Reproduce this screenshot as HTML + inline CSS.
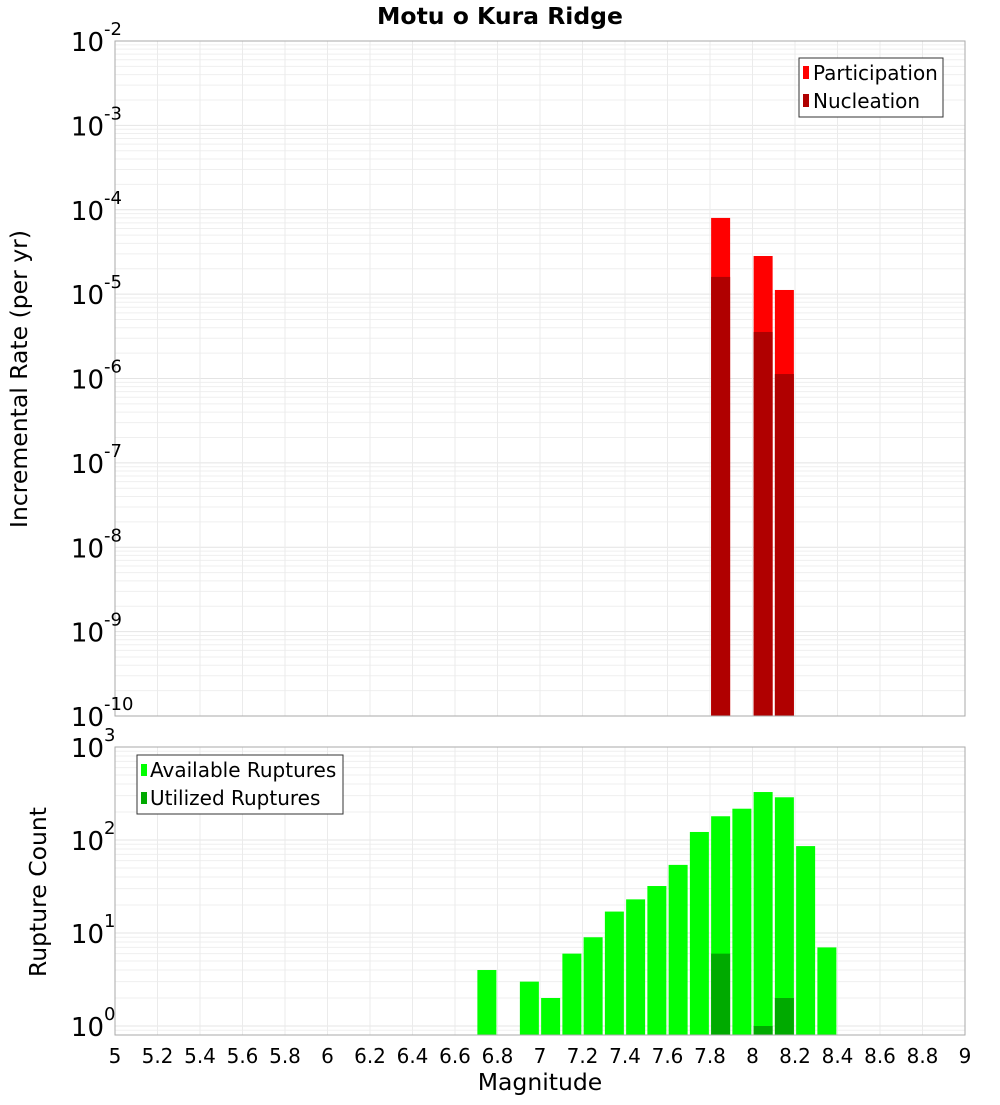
<!DOCTYPE html>
<html><head><meta charset="utf-8"><style>
body{margin:0;background:#fff;font-family:"Liberation Sans","DejaVu Sans",sans-serif}
svg text{font-family:"DejaVu Sans","Liberation Sans",sans-serif}
</style></head><body>
<svg id="c" width="1000" height="1100" xmlns="http://www.w3.org/2000/svg"></svg>
<script>
const bins=[6.75,6.95,7.05,7.15,7.25,7.35,7.45,7.55,7.65,7.75,7.85,7.95,8.05,8.15,8.25,8.35];
const available=[4,3,2,6,9,17,23,32,54,122,180,217,328,288,86,7];
const utilBins=[7.85,8.05,8.15];
const utilized=[6,1,2];
const rateBins=[7.85,8.05,8.15];
const participation=[8.0e-5,2.83e-5,1.12e-5];
const nucleation=[1.6e-5,3.56e-6,1.13e-6];
const xTicks=[5,5.2,5.4,5.6,5.8,6,6.2,6.4,6.6,6.8,7,7.2,7.4,7.6,7.8,8,8.2,8.4,8.6,8.8,9];
const xTickLabels=["5","5.2","5.4","5.6","5.8","6","6.2","6.4","6.6","6.8","7","7.2","7.4","7.6","7.8","8","8.2","8.4","8.6","8.8","9"];
const topExps=[-10,-9,-8,-7,-6,-5,-4,-3,-2];
const botExps=[0,1,2,3];

const S=document.getElementById('c'),NS='http://www.w3.org/2000/svg';
function el(t,a,p){const e=document.createElementNS(NS,t);for(const k in a)e.setAttribute(k,a[k]);(p||S).appendChild(e);return e;}
const L=115,R=965;
const x=v=>L+(v-5)/4*(R-L);
const T={t:41,b:716,lo:-10,hi:-2};
const B={t:747,b:1035,y0:1026,dec:93};
const yT=v=>T.b-(Math.log10(v)-T.lo)/(T.hi-T.lo)*(T.b-T.t);
const yB=v=>B.y0-Math.log10(v)*B.dec;
const bw=19;

function grid(top,bot,yf,eLo,eHi,name){
  const g=el('g',{});
  
  for(let e=eLo;e<=eHi;e++)for(let m=1;m<10;m++){const v=m*Math.pow(10,e);const yy=yf(v);if(yy<top-0.5||yy>bot+0.5)continue;
    el('line',{x1:L,x2:R,y1:yy,y2:yy,stroke:m==1?'#e4e4e4':'#efefef','stroke-width':1},g);}
  xTicks.forEach(t=>el('line',{x1:x(t),x2:x(t),y1:top,y2:bot,stroke:'#ebebeb','stroke-width':1},g));
}
function ylab(yy,e){
  const t=el('text',{x:104,y:yy+10,'font-size':26,'text-anchor':'end',fill:'#000'});
  
  t.textContent='10';
  const s=el('text',{x:104,y:yy-6,'font-size':18,fill:'#000'});
  
  s.textContent=String(e);
}
el('rect',{x:L,y:T.t,width:R-L,height:T.b-T.t,fill:'#fff'});
grid(T.t,T.b,yT,-11,-2,'rate');
rateBins.forEach((b,i)=>{
  const r=el('rect',{x:x(b)-bw/2,y:yT(participation[i]),width:bw,height:T.b-yT(participation[i]),fill:'#ff0000'});
  
  const n=el('rect',{x:x(b)-bw/2,y:yT(nucleation[i]),width:bw,height:T.b-yT(nucleation[i]),fill:'#b00000'});
  
});
el('rect',{x:L,y:T.t,width:R-L,height:T.b-T.t,fill:'none',stroke:'#aaa'});
grid(B.t,B.b,yB,-1,3,'count');
bins.forEach((b,i)=>{const r=el('rect',{x:x(b)-bw/2,y:yB(available[i]),width:bw,height:B.b-yB(available[i]),fill:'#00ff00'});
  });
utilBins.forEach((b,i)=>{const r=el('rect',{x:x(b)-bw/2,y:yB(utilized[i]),width:bw,height:B.b-yB(utilized[i]),fill:'#00aa00'});
  });
el('rect',{x:L,y:B.t,width:R-L,height:B.b-B.t,fill:'none',stroke:'#aaa'});
topExps.forEach(e=>ylab(yT(Math.pow(10,e)),e));
botExps.forEach(e=>ylab(yB(Math.pow(10,e)),e));
xTicks.forEach((v,i)=>{const t=el('text',{x:x(v),y:1063,'font-size':20,'text-anchor':'middle',fill:'#000'});
  t.textContent=xTickLabels[i];});
</script>
<svg width="1000" height="1100" style="position:absolute;left:0;top:0" xmlns="http://www.w3.org/2000/svg">
<text x="500" y="24" font-size="23.5" font-weight="bold" text-anchor="middle" font-family="DejaVu Sans">Motu o Kura Ridge</text>
<text x="540" y="1090" font-size="23.5" text-anchor="middle" font-family="DejaVu Sans">Magnitude</text>
<text transform="translate(27,379) rotate(-90)" font-size="23.5" text-anchor="middle" font-family="DejaVu Sans">Incremental Rate (per yr)</text>
<text transform="translate(46,892) rotate(-90)" font-size="23.5" text-anchor="middle" font-family="DejaVu Sans">Rupture Count</text>
<g font-family="DejaVu Sans" font-size="20">
<rect x="799" y="58" width="144" height="59" fill="#fff" stroke="#333"/>
<rect x="803" y="66" width="6" height="13" fill="#ff0000"/><text x="813" y="80">Participation</text>
<rect x="803" y="94" width="6" height="13" fill="#b00000"/><text x="813" y="108">Nucleation</text>
</g>
<g font-family="DejaVu Sans" font-size="20">
<rect x="137" y="755" width="206" height="59" fill="#fff" stroke="#333"/>
<rect x="141" y="764" width="6" height="12" fill="#00ff00"/><text x="150" y="777">Available Ruptures</text>
<rect x="141" y="792" width="6" height="12" fill="#00aa00"/><text x="150" y="805">Utilized Ruptures</text>
</g>
</svg>
</body></html>
